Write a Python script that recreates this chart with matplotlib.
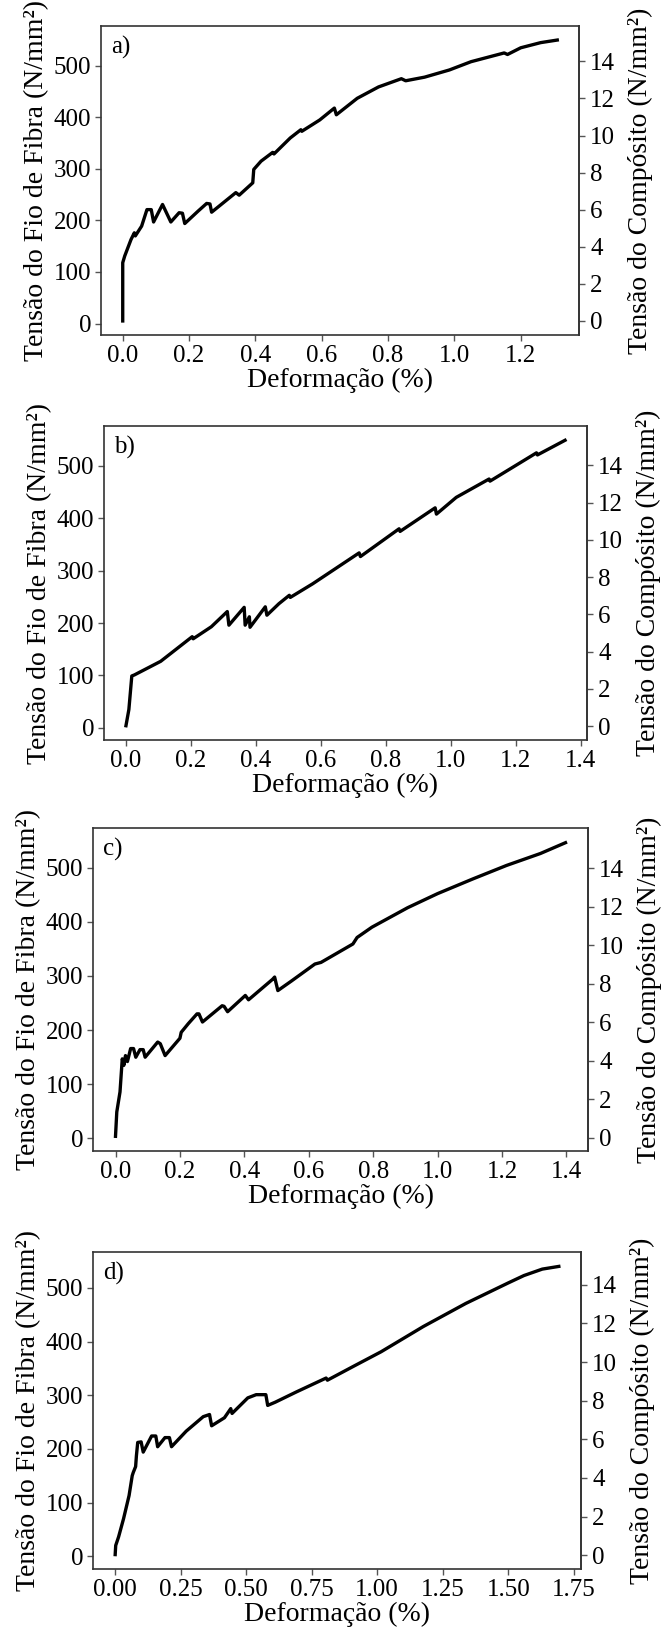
import numpy as np
import matplotlib.pyplot as plt

plt.rcParams['font.family'] = ['Liberation Serif', 'DejaVu Serif']

# painel a)
def_a = [0, 0, 0.006, 0.025, 0.035, 0.038, 0.057, 0.073, 0.086, 0.093, 0.12, 0.145,
         0.17, 0.18, 0.187, 0.227, 0.253, 0.263, 0.268, 0.316, 0.341, 0.351, 0.392,
         0.395, 0.417, 0.452, 0.456, 0.505, 0.537, 0.54, 0.594, 0.638, 0.644, 0.707,
         0.771, 0.84, 0.853, 0.91, 0.985, 1.05, 1.15, 1.16, 1.2, 1.26, 1.31]
ten_a = [5, 118, 131, 163, 176, 170, 189, 221, 221, 197, 231, 197,
         215, 214, 194, 218, 233, 232, 216, 241, 254, 249, 273,
         299, 315, 332, 329, 360, 376, 373, 395, 418, 405, 437,
         459, 475, 471, 478, 492, 508, 525, 522, 535, 545, 550]

# painel b)
def_b = [0, 0.009, 0.018, 0.026, 0.107, 0.204, 0.207, 0.263, 0.312, 0.317, 0.364,
         0.367, 0.38, 0.382, 0.429, 0.434, 0.471, 0.503, 0.506, 0.575, 0.718, 0.722,
         0.841, 0.844, 0.952, 0.956, 1.017, 1.118, 1.121, 1.264, 1.267, 1.352]
ten_b = [4, 35, 99, 101, 127, 174, 170, 193, 222, 196, 230,
         196, 212, 192, 231, 215, 237, 253, 249, 275, 334, 327,
         380, 375, 420, 408, 440, 475, 471, 525, 521, 549]

# painel c)
def_c = [0, 0.004, 0.014, 0.021, 0.026, 0.031, 0.037, 0.047, 0.056, 0.063, 0.076,
         0.086, 0.092, 0.131, 0.139, 0.154, 0.2, 0.204, 0.226, 0.253, 0.259, 0.27,
         0.331, 0.337, 0.348, 0.403, 0.413, 0.488, 0.494, 0.504, 0.547, 0.619, 0.638,
         0.737, 0.75, 0.796, 0.907, 1.0, 1.109, 1.214, 1.319, 1.397]
ten_c = [4, 49, 86, 147, 135, 153, 142, 166, 166, 150, 164,
         164, 150, 178, 175, 153, 185, 196, 212, 230, 230, 215,
         245, 244, 234, 264, 256, 294, 298, 273, 291, 322, 325,
         359, 371, 390, 426, 452, 479, 504, 526, 546]

# painel d)
def_d = [0, 0.002, 0.013, 0.032, 0.053, 0.065, 0.069, 0.078, 0.081, 0.086, 0.099,
         0.107, 0.139, 0.155, 0.162, 0.19, 0.207, 0.215, 0.271, 0.336, 0.36, 0.368,
         0.417, 0.441, 0.446, 0.506, 0.538, 0.575, 0.582, 0.611, 0.691, 0.805, 0.81,
         0.91, 1.015, 1.176, 1.338, 1.499, 1.56, 1.63, 1.693]
ten_d = [3, 20, 36, 70, 113, 150, 156, 167, 187, 212, 213,
         194, 224, 224, 204, 221, 221, 204, 233, 260, 264, 243,
         258, 275, 266, 295, 301, 301, 281, 287, 306, 332, 328,
         354, 381, 428, 471, 509, 523, 535, 540]

letras = ['a)', 'b)', 'c)', 'd)']
xticks = [np.arange(0, 1.3, 0.2), np.arange(0, 1.5, 0.2),
          np.arange(0, 1.5, 0.2), np.arange(0, 1.8, 0.25)]
xfmt = ['%.1f', '%.1f', '%.1f', '%.2f']
# conversao fio -> composito (deslocamento, fator)
conv = [(5, 0.0278), (3, 0.0281), (1, 0.0281), (2, 0.0278)]

# caixas dos eixos em pixels: esquerda, direita, topo, base
caixas = [(101, 579, 26, 335), (104, 587, 426, 740),
          (93, 588, 828, 1151), (93, 581, 1252, 1569)]

W, H = 663, 1632
fig = plt.figure(figsize=(W / 100, H / 100), dpi=100)

dados = [(def_a, ten_a), (def_b, ten_b), (def_c, ten_c), (def_d, ten_d)]
for i, (x, y) in enumerate(dados):
    l, r, t, b = caixas[i]
    ax = fig.add_axes([l / W, 1 - b / H, (r - l) / W, (b - t) / H])
    ax.plot(x, y, color='black', lw=2.4)
    ax.set_xticks(xticks[i])
    ax.set_xticklabels([xfmt[i] % v for v in xticks[i]])
    ax.set_yticks([0, 100, 200, 300, 400, 500])
    ax.tick_params(direction='out', length=4, width=1, color='#555555',
                   labelsize=18, pad=3)
    for s in ax.spines.values():
        s.set_color('#333333')
        s.set_linewidth(1.2)
    ax.set_xlabel('Deformação (%)', fontsize=20, labelpad=1)
    ax.set_ylabel('Tensão do Fio de Fibra (N/mm²)', fontsize=20, labelpad=3)
    ax.text(10 / (r - l), 1 - 10 / (b - t), letras[i], transform=ax.transAxes,
            fontsize=18, va='top', ha='left')

    off, k = conv[i]
    sec = ax.secondary_yaxis('right',
                             functions=(lambda v, o=off, f=k: (v - o) * f,
                                        lambda v, o=off, f=k: v / f + o))
    sec.set_yticks(np.arange(0, 15, 2))
    sec.tick_params(direction='out', length=4, width=1, color='#555555',
                    labelsize=18, pad=4)
    sec.spines['right'].set_color('#333333')
    sec.spines['right'].set_linewidth(1.2)
    sec.set_ylabel('Tensão do Compósito (N/mm²)', fontsize=20, labelpad=9)

fig.savefig('out.png', dpi=100)
